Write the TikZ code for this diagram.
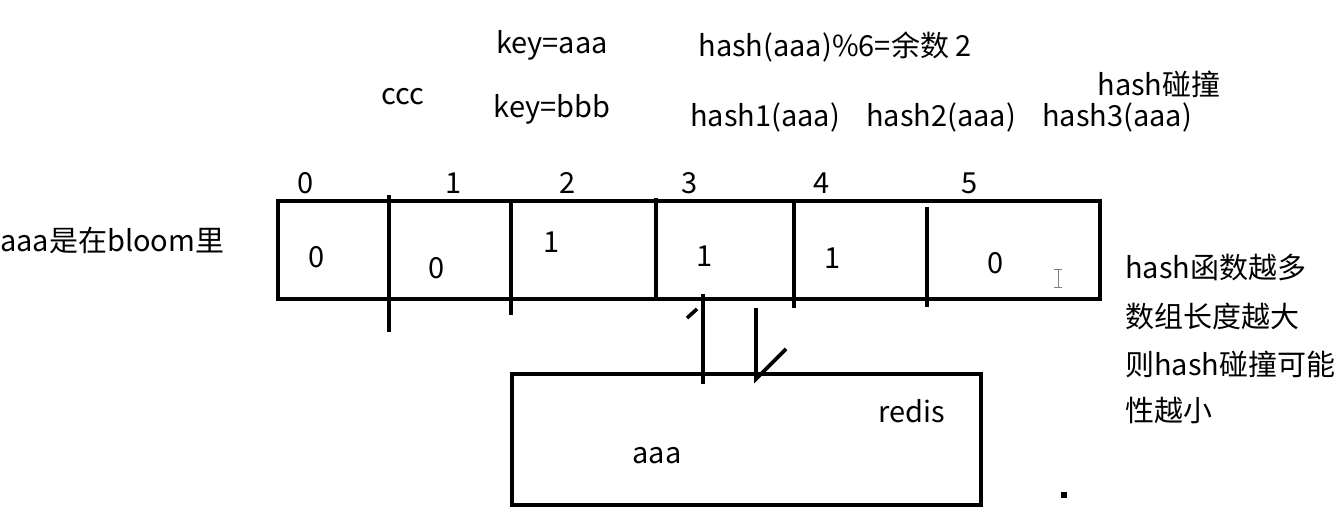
\documentclass[tikz,border=0pt]{standalone}
\usepackage{fontspec}
\setmainfont{Noto Sans CJK SC}
\begin{document}
\begin{tikzpicture}[x=1pt,y=-1pt,
  line/.style={line width=3.6pt,black},
  lbl/.style={font=\fontsize{29}{32}\selectfont,inner sep=0pt,anchor=center},
  lbll/.style={font=\fontsize{29}{32}\selectfont,inner sep=0pt,anchor=west}]
\useasboundingbox (0,0) rectangle (1343,517);
% array
\draw[line] (278,201) rectangle (1100,299);
\coordinate (d1a) at (389,195); \coordinate (d1b) at (389,332);
\coordinate (d2a) at (511,201); \coordinate (d2b) at (511,315);
\coordinate (d3a) at (656,198); \coordinate (d3b) at (656,299);
\coordinate (d4a) at (794,203); \coordinate (d4b) at (794,308);
\coordinate (d5a) at (927,207); \coordinate (d5b) at (927,307);
\draw[line] (d1a) -- (d1b);
\draw[line] (d2a) -- (d2b);
\draw[line] (d3a) -- (d3b);
\draw[line] (d4a) -- (d4b);
\draw[line] (d5a) -- (d5b);
% indices
\node[lbl] (i0) at (306,183) {0};
\node[lbl] (i1) at (454,183) {1};
\node[lbl] (i2) at (568,183) {2};
\node[lbl] (i3) at (690,183) {3};
\node[lbl] (i4) at (822,183) {4};
\node[lbl] (i5) at (970,183) {5};
% values
\node[lbl] (v0) at (317,257) {0};
\node[lbl] (v1) at (437,268) {0};
\node[lbl] (v2) at (552,242) {1};
\node[lbl] (v3) at (705,256) {1};
\node[lbl] (v4) at (833,258) {1};
\node[lbl] (v5) at (996,263) {0};
% cursor
\draw[gray,line width=1pt] (1058,269) -- (1058,287) (1054,269) -- (1062,269) (1054,287) -- (1062,287);
% redis box
\draw[line] (512,374) rectangle (981,505);
\node[lbl] (redis) at (912,411) {redis};
\node[lbl] (aaa) at (657,456) {aaa};
% connector lines
\coordinate (c1a) at (703,294); \coordinate (c1b) at (703,384);
\coordinate (t1a) at (687,318); \coordinate (t1b) at (697,309);
\coordinate (c2a) at (756,308); \coordinate (c2b) at (756,379);
\coordinate (c2c) at (786,349);
\draw[line] (c1a) -- (c1b);
\draw[line] (t1a) -- (t1b);
\draw[line] (c2a) -- (c2b) -- (c2c);
% dot
\fill (1061,492) rectangle (1067,498);
% top texts
\node[lbl] (ccc) at (403,97) {ccc};
\node[lbl] (ka) at (552,45) {key=aaa};
\node[lbl] (kb) at (552,109) {key=bbb};
\node[lbl] (hm) at (835,47) {hash(aaa)\%6=余数 2};
\node[lbl] (hc) at (1159,84) {hash碰撞};
\node[lbl] (h1) at (765,117) {hash1(aaa)};
\node[lbl] (h2) at (941,117) {hash2(aaa)};
\node[lbl] (h3) at (1117,117) {hash3(aaa)};
% left text
\node[lbll] (bl) at (0,240) {aaa是在bloom里};
% right text
\node[lbll] (r1) at (1125,267) {hash函数越多};
\node[lbll] (r2) at (1125,316) {数组长度越大};
\node[lbll] (r3) at (1125,364) {则hash碰撞可能};
\node[lbll] (r4) at (1125,410) {性越小};
\end{tikzpicture}
\end{document}
